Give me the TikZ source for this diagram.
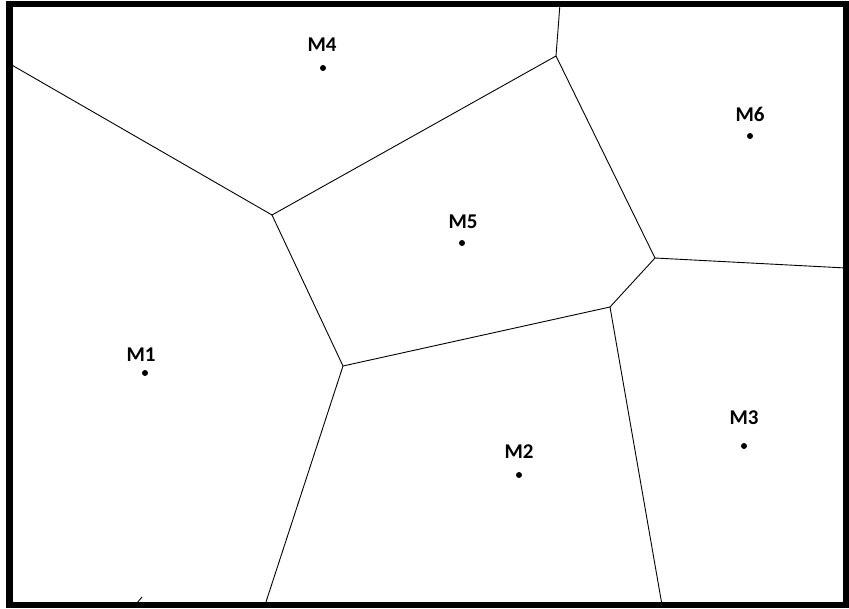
\documentclass[tikz,border=0pt]{standalone}
\usepackage{fontspec}
\setmainfont{Carlito}
\usetikzlibrary{positioning}

\begin{document}
\begin{tikzpicture}[x=1pt, y=-1pt, line width=0.9pt, every node/.style={font=\fontsize{21}{21}\selectfont\bfseries, inner sep=0pt},
  site/.style={circle, fill, minimum size=6pt, inner sep=0pt}]
\useasboundingbox (0,0) rectangle (849,608);
% sites
\node[site] (m1) at (145,373) {}; \node[site] (m2) at (519,475) {}; \node[site] (m3) at (744,446) {};
\node[site] (m4) at (323,68) {}; \node[site] (m5) at (462,243) {}; \node[site] (m6) at (750,136) {};
\node (l1) at (141,355) {M1}; \node (l2) at (519,452) {M2}; \node (l3) at (744,418) {M3};
\node (l4) at (322,45) {M4}; \node (l5) at (463,222) {M5}; \node (l6) at (750,114) {M6};
% vertices
\coordinate (a) at (272,215); \coordinate (b) at (556,56); \coordinate (c) at (655,258);
\coordinate (d) at (610,307); \coordinate (e) at (343,366);
\coordinate (wl) at (10,64); \coordinate (wt) at (560,4); \coordinate (wr) at (846,268);
\coordinate (wb1) at (265,605); \coordinate (wb2) at (662,605);
\draw (wl) -- (a) -- (b) -- (wt); \draw (b) -- (c) -- (wr); \draw (c) -- (d) -- (wb2);
\draw (d) -- (e) -- (a); \draw (e) -- (wb1);
\draw (137,603) -- (142,597);
% frame
\draw[line width=6.5pt] (9.5,4) rectangle (846,605);
\end{tikzpicture}
\end{document}
